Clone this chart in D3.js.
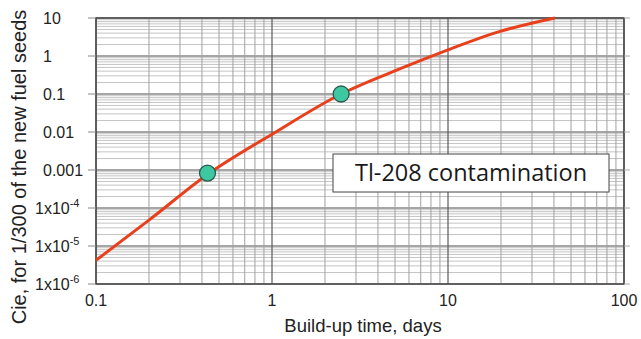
<!DOCTYPE html>
<html lang="en">
<head>
  <meta charset="UTF-8" />
  <title>Tl-208 contamination</title>
  <style>
    body { margin: 0; background: #fff; }
    svg { display: block; font-family: "Liberation Sans", Arial, sans-serif; }
  </style>
  <script src="https://d3js.org/d3.v7.min.js"></script>
</head>
<body>
<svg id="chart" width="641" height="339"></svg>

<script>
  // curve
  const days = [0.1, 0.2, 0.43, 1, 2.47, 5.4, 10, 20, 40.5];
  const cie = [4.2e-6, 4.8e-5, 7.6e-4, 8.7e-3, 0.1, 0.47, 1.45, 4.5, 10];

  // the two marked points
  const markDays = [0.43, 2.47];
  const markCie = [8.3e-4, 0.1];

  const xTicks = [0.1, 1, 10, 100];
  const yTicks = [10, 1, 0.1, 0.01, 0.001, 1e-4, 1e-5, 1e-6];
  const note = 'Tl-208 contamination';

  const svg = d3.select('#chart');
  const pLeft = 96, pRight = 624, pTop = 18, pBottom = 284;

  const x = d3.scaleLog().domain([0.1, 100]).range([pLeft, pRight]);
  const y = d3.scaleLog().domain([1e-6, 10]).range([pBottom, pTop]);

  const isDecade = v => Math.abs(Math.log10(v) - Math.round(Math.log10(v))) < 1e-9;

  // horizontal grid
  const yAll = y.ticks();
  svg.append('g').selectAll('line')
    .data(yAll.filter(v => !isDecade(v)))
    .join('line')
    .attr('x1', pLeft).attr('x2', pRight)
    .attr('y1', d => y(d)).attr('y2', d => y(d))
    .attr('stroke', '#c4c4c4').attr('stroke-width', 1);

  svg.append('g').selectAll('line')
    .data(yAll.filter(isDecade))
    .join('line')
    .attr('x1', pLeft).attr('x2', pRight)
    .attr('y1', d => y(d)).attr('y2', d => y(d))
    .attr('stroke', '#888').attr('stroke-width', 1.3);

  // vertical grid
  const xAll = x.ticks();
  svg.append('g').selectAll('line')
    .data(xAll.filter(v => !isDecade(v)))
    .join('line')
    .attr('x1', d => x(d)).attr('x2', d => x(d))
    .attr('y1', pTop).attr('y2', pBottom)
    .attr('stroke', '#a0a0a0').attr('stroke-width', 1);

  svg.append('g').selectAll('line')
    .data(xAll.filter(isDecade))
    .join('line')
    .attr('x1', d => x(d)).attr('x2', d => x(d))
    .attr('y1', pTop).attr('y2', pBottom)
    .attr('stroke', '#5a5a5a').attr('stroke-width', 1.2);

  // frame
  svg.append('rect')
    .attr('x', pLeft).attr('y', pTop)
    .attr('width', pRight - pLeft).attr('height', pBottom - pTop)
    .attr('fill', 'none').attr('stroke', '#4a4a4a').attr('stroke-width', 1.5);

  // outer ticks
  svg.append('g').selectAll('line')
    .data(yTicks)
    .join('line')
    .attr('x1', pLeft - 8).attr('x2', pLeft)
    .attr('y1', d => y(d)).attr('y2', d => y(d))
    .attr('stroke', '#888');
  svg.append('g').selectAll('line')
    .data(yTicks)
    .join('line')
    .attr('x1', pRight).attr('x2', pRight + 6)
    .attr('y1', d => y(d)).attr('y2', d => y(d))
    .attr('stroke', '#aaa');

  // y tick labels, left aligned as in the original
  const yLab = svg.append('g')
    .attr('font-size', 16).attr('fill', '#222');
  yTicks.forEach(v => {
    const t = yLab.append('text')
      .attr('y', y(v) + 6);
    if (v >= 0.001) {
      t.attr('x', 43).text(String(v));
    } else {
      t.attr('x', 35);
      t.append('tspan').text('1x10');
      t.append('tspan').attr('dy', -7).attr('font-size', 11)
        .text(String(Math.round(Math.log10(v))));
    }
  });

  // x tick labels
  svg.append('g').selectAll('text')
    .data(xTicks)
    .join('text')
    .attr('x', d => x(d)).attr('y', pBottom + 22)
    .attr('text-anchor', 'middle').attr('font-size', 16).attr('fill', '#222')
    .text(d => String(d));

  // titles
  svg.append('text')
    .attr('x', 363).attr('y', 332)
    .attr('text-anchor', 'middle').attr('font-size', 18.5).attr('fill', '#222')
    .text('Build-up time, days');

  svg.append('text')
    .attr('transform', 'translate(26,167) rotate(-90)')
    .attr('text-anchor', 'middle').attr('font-size', 20).attr('fill', '#222')
    .text('Cie, for 1/300 of the new fuel seeds');

  // curve
  const line = d3.line()
    .x(d => x(d[0])).y(d => y(d[1]))
    .curve(d3.curveMonotoneX);

  svg.append('path')
    .datum(d3.zip(days, cie))
    .attr('d', line)
    .attr('fill', 'none').attr('stroke', '#e8401c').attr('stroke-width', 3);

  // markers
  svg.append('g').selectAll('circle')
    .data(d3.zip(markDays, markCie))
    .join('circle')
    .attr('cx', d => x(d[0])).attr('cy', d => y(d[1]))
    .attr('r', 8)
    .attr('fill', '#3ec8a2').attr('stroke', '#2d5a4c').attr('stroke-width', 1.3);

  // note box
  const bx = 333, by = 154, bw = 276, bh = 38;
  svg.append('rect')
    .attr('x', bx).attr('y', by).attr('width', bw).attr('height', bh)
    .attr('fill', '#fff').attr('stroke', '#444').attr('stroke-width', 1);
  svg.append('text')
    .attr('x', bx + bw / 2).attr('y', by + 27)
    .attr('text-anchor', 'middle')
    .attr('font-family', '"Open Sans", sans-serif')
    .attr('font-size', 23.5).attr('fill', '#1a1a1a')
    .text(note);
</script>
</body>
</html>
